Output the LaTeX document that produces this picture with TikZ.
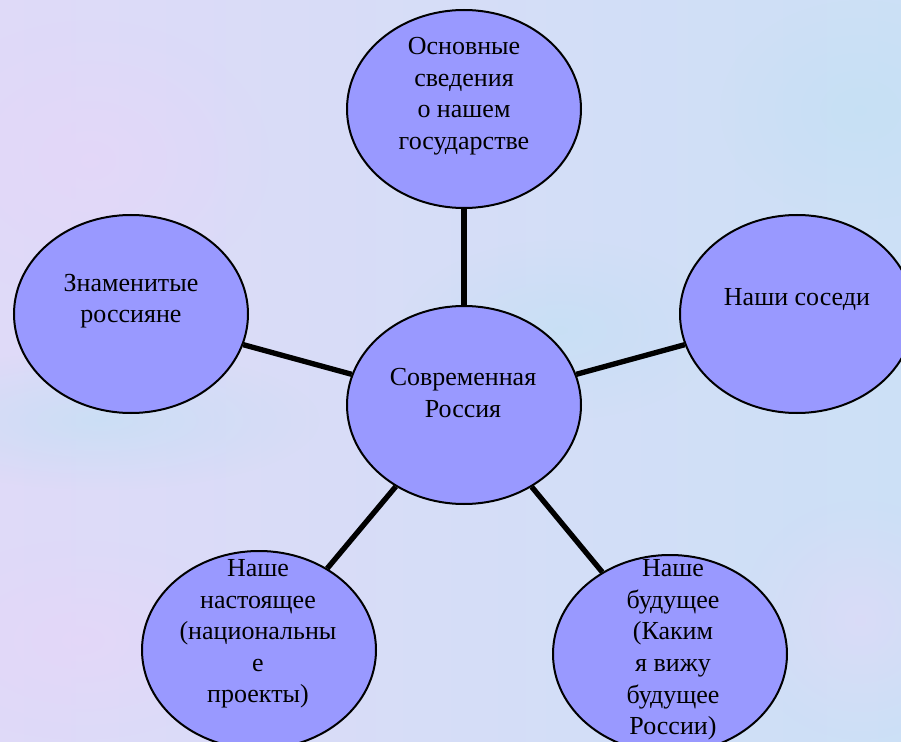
\documentclass[tikz,border=0pt]{standalone}
\usepackage{fontspec}
\setmainfont{Liberation Serif}
\usetikzlibrary{shapes.geometric,fadings}

\definecolor{bubblefill}{HTML}{9999FF}
\definecolor{bglilac}{HTML}{DFDAF8}
\definecolor{bgblue}{HTML}{CCE0F6}
\definecolor{bgpink}{HTML}{E6D6F8}
\definecolor{bgsky}{HTML}{C4E0F4}

\tikzfading[name=softspot, inner color=transparent!0, outer color=transparent!100]

\tikzset{
  bubble/.style={ellipse, draw=black, line width=1.5pt, fill=bubblefill,
    minimum width=175.5pt, minimum height=148.5pt, inner sep=0pt},
  caption/.style={align=center, inner sep=0pt,
    font=\fontsize{19.5}{23.7}\selectfont},
  link/.style={line width=4pt},
  blob/.style={path fading=softspot, opacity=0.7}
}

\begin{document}
\begin{tikzpicture}[x=0.75pt,y=-0.75pt]
\useasboundingbox (0,0) rectangle (901,742);
\clip (0,0) rectangle (901,742);

% background
\shade[left color=bglilac,right color=bgblue] (0,0) rectangle (901,742);
\fill[bgpink,blob] (90,160) ellipse (180 and 140);
\fill[bgsky,blob] (100,420) ellipse (220 and 70);
\fill[bgpink,blob] (80,640) ellipse (170 and 100);
\fill[bgsky,blob] (860,110) ellipse (140 and 110);
\fill[bgsky,blob] (560,330) ellipse (160 and 90);
\fill[bglilac,blob] (860,620) ellipse (120 and 120);

% bubbles
\node[bubble] (centre) at (464,405) {};
\node[bubble] (facts) at (464,109) {};
\node[bubble] (people) at (131,314) {};
\node[bubble] (neighbours) at (797,314) {};
\node[bubble] (present) at (259,650) {};
\node[bubble] (future) at (670,654) {};

% connectors
\draw[link] (centre) -- (facts);
\draw[link] (centre) -- (people);
\draw[link] (centre) -- (neighbours);
\draw[link] (centre) -- (present);
\draw[link] (centre) -- (future);

% captions
\node[caption] (centre-text) at (463,393) {Современная\\Россия};
\node[caption] (facts-text) at (464,96) {Основные\\сведения\\о нашем\\государстве};
\node[caption] (people-text) at (131,301) {Знаменитые\\россияне};
\node[caption] (neighbours-text) at (797,300) {Наши соседи};
\node[caption] (present-text) at (258,634) {Наше\\настоящее\\(национальны\\е\\проекты)};
\node[caption] (future-text) at (673,650) {Наше\\будущее\\(Каким\\я вижу\\будущее\\России)};
\end{tikzpicture}
\end{document}
